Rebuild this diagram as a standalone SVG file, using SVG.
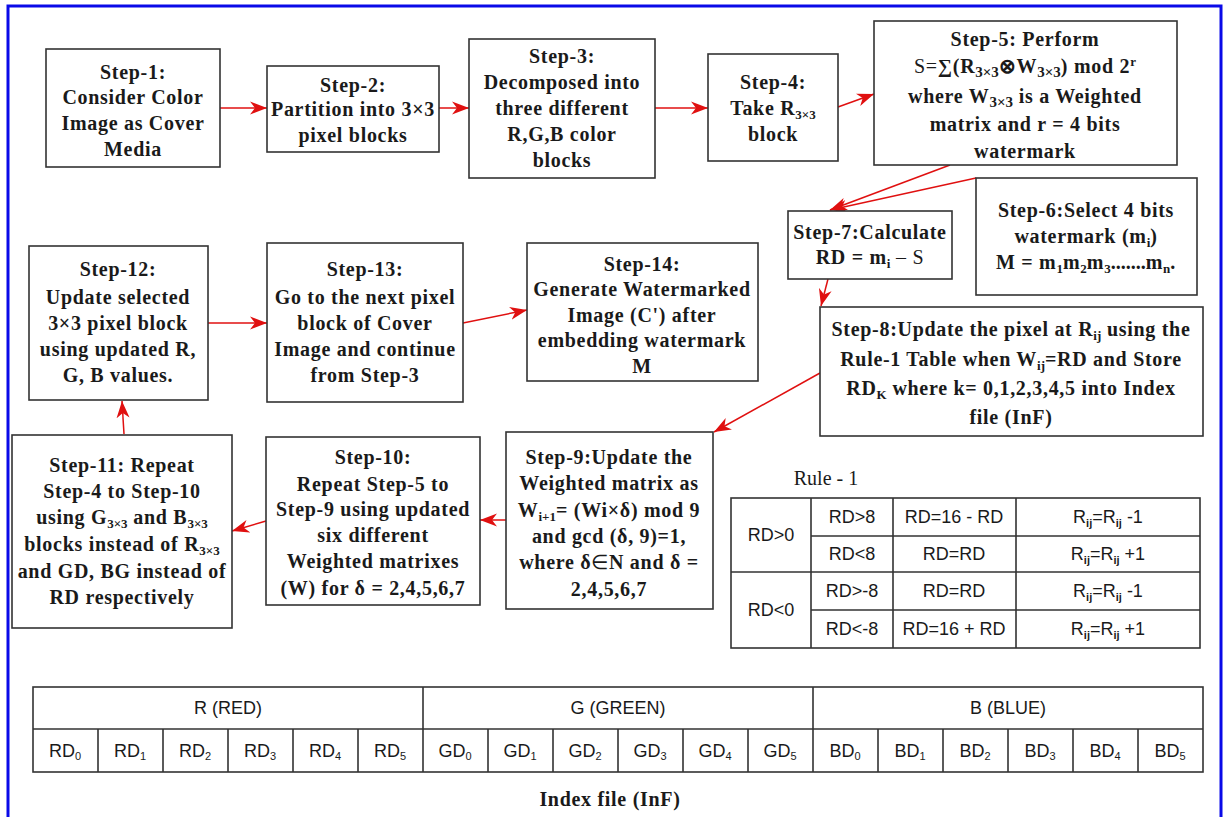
<svg xmlns="http://www.w3.org/2000/svg" width="1227" height="817" viewBox="0 0 1227 817">
<style>
.box{fill:#fff;stroke:#333;stroke-width:1.6}
.t{font-family:"Liberation Serif","Times New Roman",serif;font-weight:bold;font-size:20px;letter-spacing:0.7px;fill:#1a1a1a;text-anchor:middle}
.s{font-size:13px;letter-spacing:0}
.s5{font-size:15px;letter-spacing:0}
.c{stroke:#e01010;stroke-width:1.5;fill:none;marker-end:url(#ah)}
.tb{fill:none;stroke:#333;stroke-width:1.6}
.ts{font-family:"Liberation Sans",Arial,sans-serif;font-size:18px;fill:#1a1a1a;text-anchor:middle}
.ss{font-size:11px}
</style>
<defs>
<marker id="ah" markerUnits="userSpaceOnUse" markerWidth="19" markerHeight="15" refX="17" refY="7.5" orient="auto">
<path d="M0,1 L17,7.5 L0,14 L5,7.5 z" fill="#e01010"/>
</marker>
</defs>
<rect width="1227" height="817" fill="#fff"/>
<rect x="8" y="6" width="1213" height="830" fill="none" stroke="#0a0ae8" stroke-width="3"/>

<g id="connectors">
<line class="c" x1="220" y1="108" x2="267" y2="108"/>
<line class="c" x1="439" y1="108" x2="469" y2="108"/>
<line class="c" x1="655" y1="108" x2="708" y2="108"/>
<line class="c" x1="838" y1="107" x2="874" y2="94"/>
<line class="c" x1="950" y1="165" x2="830" y2="210"/>
<line class="c" x1="976" y1="178" x2="830" y2="210"/>
<line class="c" x1="828" y1="279" x2="821" y2="306"/>
<line class="c" x1="820" y1="373" x2="714" y2="432"/>
<line class="c" x1="506" y1="520" x2="480" y2="520"/>
<line class="c" x1="266" y1="521" x2="232" y2="531"/>
<line class="c" x1="124" y1="434" x2="122" y2="401"/>
<line class="c" x1="208" y1="323" x2="267" y2="323"/>
<line class="c" x1="463" y1="323" x2="527" y2="310"/>
</g>

<g id="step1"><rect class="box" x="46" y="49" width="174" height="118"/>
<text class="t" x="133" y="79">Step-1:</text>
<text class="t" x="133" y="104">Consider Color</text>
<text class="t" x="133" y="130">Image as Cover</text>
<text class="t" x="133" y="156">Media</text></g>

<g id="step2"><rect class="box" x="267" y="66" width="172" height="86"/>
<text class="t" x="353" y="92">Step-2:</text>
<text class="t" x="353" y="116" font-size="18" letter-spacing="0.3">Partition into 3×3</text>
<text class="t" x="353" y="142">pixel blocks</text></g>

<g id="step3"><rect class="box" x="469" y="39" width="186" height="139"/>
<text class="t" x="562" y="63">Step-3:</text>
<text class="t" x="562" y="89">Decomposed into</text>
<text class="t" x="562" y="115">three different</text>
<text class="t" x="562" y="141">R,G,B color</text>
<text class="t" x="562" y="167">blocks</text></g>

<g id="step4"><rect class="box" x="708" y="54" width="130" height="107"/>
<text class="t" x="773" y="89">Step-4:</text>
<text class="t" x="773" y="115">Take R<tspan class="s" dy="4">3×3</tspan></text>
<text class="t" x="773" y="141">block</text></g>

<g id="step5"><rect class="box" x="874" y="21" width="303" height="144"/>
<text class="t" x="1025" y="46">Step-5: Perform</text>
<text class="t" x="1025" y="73"><tspan font-weight="normal">S=</tspan>∑(R<tspan class="s5" dy="4">3×3</tspan><tspan dy="-4">⊗W</tspan><tspan class="s5" dy="4">3×3</tspan><tspan dy="-4">) mod 2</tspan><tspan class="s" dy="-7">r</tspan></text>
<text class="t" x="1025" y="103">where W<tspan class="s5" dy="4">3×3</tspan><tspan dy="-4"> is a Weighted</tspan></text>
<text class="t" x="1025" y="131">matrix and r = 4 bits</text>
<text class="t" x="1025" y="158">watermark</text></g>

<g id="step6"><rect class="box" x="976" y="178" width="221" height="117"/>
<text class="t" x="1086" y="217">Step-6:Select 4 bits</text>
<text class="t" x="1086" y="243">watermark (m<tspan class="s" dy="4">i</tspan><tspan dy="-4">)</tspan></text>
<text class="t" x="1086" y="269">M = m<tspan class="s" dy="4">1</tspan><tspan dy="-4">m</tspan><tspan class="s" dy="4">2</tspan><tspan dy="-4">m</tspan><tspan class="s" dy="4">3</tspan><tspan dy="-4" letter-spacing="0">.......</tspan><tspan dy="0">m</tspan><tspan class="s" dy="4">n</tspan><tspan dy="-4">.</tspan></text></g>

<g id="step7"><rect class="box" x="788" y="211" width="164" height="68"/>
<text class="t" x="870" y="239">Step-7:Calculate</text>
<text class="t" x="870" y="264">RD = m<tspan class="s" dy="4">i</tspan><tspan dy="-4" font-weight="normal"> – S</tspan></text></g>

<g id="step8"><rect class="box" x="820" y="307" width="383" height="129"/>
<text class="t" x="1011" y="336">Step-8:Update the pixel at R<tspan class="s" dy="4">ij</tspan><tspan dy="-4"> using the</tspan></text>
<text class="t" x="1011" y="366">Rule-1 Table when W<tspan class="s" dy="4">ij</tspan><tspan dy="-4">=RD and Store</tspan></text>
<text class="t" x="1011" y="395">RD<tspan class="s" dy="4">K</tspan><tspan dy="-4"> where k= 0,1,2,3,4,5 into  Index</tspan></text>
<text class="t" x="1011" y="424">file (InF)</text></g>

<g id="step9"><rect class="box" x="506" y="432" width="207" height="177"/>
<text class="t" x="609" y="464">Step-9:Update the</text>
<text class="t" x="609" y="490">Weighted matrix as</text>
<text class="t" x="609" y="517">W<tspan class="s" dy="4">i+1</tspan><tspan dy="-4">= (Wi×δ) mod 9</tspan></text>
<text class="t" x="609" y="543">and gcd (δ, 9)=1,</text>
<text class="t" x="609" y="569">where δ<tspan font-weight="normal">∈</tspan>N and δ =</text>
<text class="t" x="609" y="596">2,4,5,6,7</text></g>

<g id="step10"><rect class="box" x="266" y="437" width="214" height="168"/>
<text class="t" x="373" y="464">Step-10:</text>
<text class="t" x="373" y="491">Repeat  Step-5 to</text>
<text class="t" x="373" y="516">Step-9 using updated</text>
<text class="t" x="373" y="542">six different</text>
<text class="t" x="373" y="568">Weighted matrixes</text>
<text class="t" x="373" y="595">(W) for δ = 2,4,5,6,7</text></g>

<g id="step11"><rect class="box" x="12" y="435" width="220" height="193"/>
<text class="t" x="122" y="472">Step-11: Repeat</text>
<text class="t" x="122" y="498">Step-4 to Step-10</text>
<text class="t" x="122" y="524">using G<tspan class="s" dy="4">3×3</tspan><tspan dy="-4"> and B</tspan><tspan class="s" dy="4">3×3</tspan></text>
<text class="t" x="122" y="551">blocks instead of  R<tspan class="s" dy="4">3×3</tspan></text>
<text class="t" x="122" y="578">and GD, BG instead of</text>
<text class="t" x="122" y="604">RD respectively</text></g>

<g id="step12"><rect class="box" x="29" y="246" width="179" height="154"/>
<text class="t" x="118" y="276">Step-12:</text>
<text class="t" x="118" y="304">Update selected</text>
<text class="t" x="118" y="330">3×3 pixel block</text>
<text class="t" x="118" y="356">using updated R,</text>
<text class="t" x="118" y="382">G, B values.</text></g>

<g id="step13"><rect class="box" x="267" y="243" width="196" height="159"/>
<text class="t" x="365" y="276">Step-13:</text>
<text class="t" x="365" y="304">Go to the next pixel</text>
<text class="t" x="365" y="330">block of Cover</text>
<text class="t" x="365" y="356">Image and continue</text>
<text class="t" x="365" y="382">from Step-3</text></g>

<g id="step14"><rect class="box" x="527" y="243" width="231" height="138"/>
<text class="t" x="642" y="271">Step-14:</text>
<text class="t" x="642" y="296">Generate Watermarked</text>
<text class="t" x="642" y="322">Image (C') after</text>
<text class="t" x="642" y="347">embedding  watermark</text>
<text class="t" x="642" y="373">M</text></g>

<g id="rule1">
<text x="826" y="485" style="font-family:'Liberation Serif',serif;font-size:20px;fill:#1a1a1a;text-anchor:middle">Rule - 1</text>
<rect class="tb" x="731" y="498" width="469" height="150"/>
<path class="tb" d="M811,498V648M893,498V648M1016,498V648M811,536H1200M731,572H1200M811,610H1200"/>
<text class="ts" x="771" y="541">RD&gt;0</text>
<text class="ts" x="771" y="616">RD&lt;0</text>
<text class="ts" x="852" y="523">RD&gt;8</text>
<text class="ts" x="852" y="560">RD&lt;8</text>
<text class="ts" x="852" y="597">RD&gt;-8</text>
<text class="ts" x="852" y="635">RD&lt;-8</text>
<text class="ts" x="954" y="523">RD=16 - RD</text>
<text class="ts" x="954" y="560">RD=RD</text>
<text class="ts" x="954" y="597">RD=RD</text>
<text class="ts" x="954" y="635">RD=16 + RD</text>
<text class="ts" x="1108" y="523">R<tspan class="ss" dy="4" font-weight="bold">ij</tspan><tspan dy="-4">=R</tspan><tspan class="ss" dy="4" font-weight="bold">ij</tspan><tspan dy="-4"> -1</tspan></text>
<text class="ts" x="1108" y="560">R<tspan class="ss" dy="4" font-weight="bold">ij</tspan><tspan dy="-4">=R</tspan><tspan class="ss" dy="4" font-weight="bold">ij</tspan><tspan dy="-4"> +1</tspan></text>
<text class="ts" x="1108" y="597">R<tspan class="ss" dy="4" font-weight="bold">ij</tspan><tspan dy="-4">=R</tspan><tspan class="ss" dy="4" font-weight="bold">ij</tspan><tspan dy="-4"> -1</tspan></text>
<text class="ts" x="1108" y="635">R<tspan class="ss" dy="4" font-weight="bold">ij</tspan><tspan dy="-4">=R</tspan><tspan class="ss" dy="4" font-weight="bold">ij</tspan><tspan dy="-4"> +1</tspan></text>
</g>

<g id="indexfile">
<rect class="tb" x="33" y="687" width="1170" height="85"/>
<path class="tb" d="M33,729H1203M423,687V772M813,687V772M98,729V772M163,729V772M228,729V772M293,729V772M358,729V772M488,729V772M553,729V772M618,729V772M683,729V772M748,729V772M878,729V772M943,729V772M1008,729V772M1073,729V772M1138,729V772"/>
<text class="ts" x="228" y="714">R (RED)</text>
<text class="ts" x="618" y="714">G (GREEN)</text>
<text class="ts" x="1008" y="714">B (BLUE)</text>
<text class="ts" x="65" y="757">RD<tspan class="ss" dy="3">0</tspan></text>
<text class="ts" x="130" y="757">RD<tspan class="ss" dy="3">1</tspan></text>
<text class="ts" x="195" y="757">RD<tspan class="ss" dy="3">2</tspan></text>
<text class="ts" x="260" y="757">RD<tspan class="ss" dy="3">3</tspan></text>
<text class="ts" x="325" y="757">RD<tspan class="ss" dy="3">4</tspan></text>
<text class="ts" x="390" y="757">RD<tspan class="ss" dy="3">5</tspan></text>
<text class="ts" x="455" y="757">GD<tspan class="ss" dy="3">0</tspan></text>
<text class="ts" x="520" y="757">GD<tspan class="ss" dy="3">1</tspan></text>
<text class="ts" x="585" y="757">GD<tspan class="ss" dy="3">2</tspan></text>
<text class="ts" x="650" y="757">GD<tspan class="ss" dy="3">3</tspan></text>
<text class="ts" x="715" y="757">GD<tspan class="ss" dy="3">4</tspan></text>
<text class="ts" x="780" y="757">GD<tspan class="ss" dy="3">5</tspan></text>
<text class="ts" x="845" y="757">BD<tspan class="ss" dy="3">0</tspan></text>
<text class="ts" x="910" y="757">BD<tspan class="ss" dy="3">1</tspan></text>
<text class="ts" x="975" y="757">BD<tspan class="ss" dy="3">2</tspan></text>
<text class="ts" x="1040" y="757">BD<tspan class="ss" dy="3">3</tspan></text>
<text class="ts" x="1105" y="757">BD<tspan class="ss" dy="3">4</tspan></text>
<text class="ts" x="1170" y="757">BD<tspan class="ss" dy="3">5</tspan></text>
<text class="t" x="610" y="806" font-size="19" letter-spacing="0.3">Index file (InF)</text>
</g>
</svg>
